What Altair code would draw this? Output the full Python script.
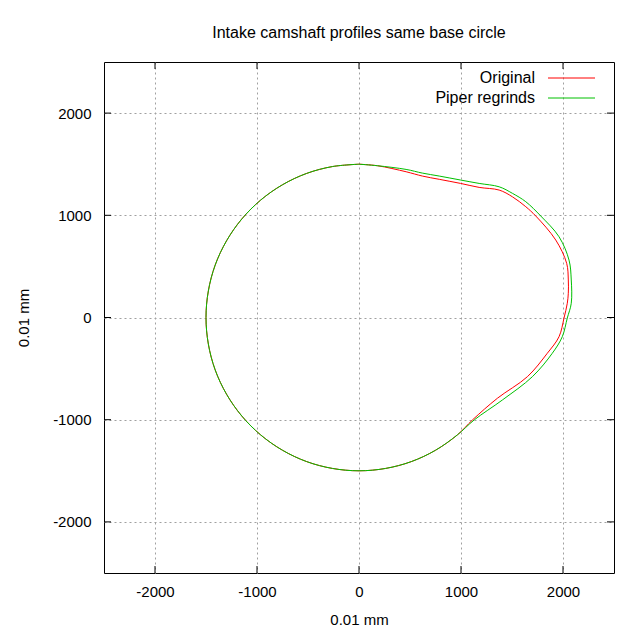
import altair as alt
import pandas as pd

# Base circle (shared by both profiles), counter-clockwise from the top
base_x = [0, -260, -513, -750, -964, -1149, -1299, -1410, -1477, -1500, -1477, -1410,
          -1299, -1149, -964, -750, -513, -260, 0, 260, 513, 750, 964]
base_y = [1500, 1477, 1410, 1299, 1149, 964, 750, 513, 260, 0, -260, -513,
          -750, -964, -1149, -1299, -1410, -1477, -1500, -1477, -1410, -1299, -1149]

# Lobe of the original profile
orig_x = [1113, 1357, 1651, 1846, 1961, 2010, 2042, 2052, 2052, 2036, 1929, 1733, 1635,
          1504, 1374, 1178, 996, 787, 621, 462, 181, 0]
orig_y = [-1002, -790, -579, -350, -188, -5, 139, 237, 367, 530, 758, 993, 1084,
          1181, 1247, 1273, 1312, 1352, 1384, 1426, 1485, 1500]

# Lobe of the Piper regrind profile
piper_x = [1130, 1406, 1700, 1895, 1993, 2042, 2081, 2081, 2059, 1961, 1782, 1635,
           1504, 1374, 1178, 996, 787, 621, 462, 181, 0]
piper_y = [-1002, -807, -579, -350, -188, -5, 139, 367, 562, 790, 993, 1133,
           1215, 1279, 1312, 1345, 1384, 1413, 1449, 1485, 1500]

series = ["Original", "Piper regrinds"]
colors = ["#ff0000", "#00c000"]
ticks = [-2000, -1000, 0, 1000, 2000]

rows = []
for name, lx, ly in [(series[0], orig_x, orig_y), (series[1], piper_x, piper_y)]:
    xs = base_x + lx
    ys = base_y + ly
    for i, (x, y) in enumerate(zip(xs, ys)):
        rows.append({"series": name, "x": x, "y": y, "order": i})
df = pd.DataFrame(rows)

W, H = 510, 511
font = "Liberation Sans"

xscale = alt.Scale(domain=[-2500, 2500], nice=False, zero=False)
yscale = alt.Scale(domain=[-2500, 2500], nice=False, zero=False)


def curve(name, color):
    return alt.Chart(df[df["series"] == name]).mark_line(
        color=color, strokeWidth=1, interpolate="catmull-rom"
    ).encode(
        x=alt.X("x:Q", scale=xscale,
                axis=alt.Axis(values=ticks, title="0.01 mm", labelExpr="'' + datum.value")),
        y=alt.Y("y:Q", scale=yscale,
                axis=alt.Axis(values=ticks, title="0.01 mm", labelExpr="'' + datum.value")),
        order="order:Q",
    )


tdf = pd.DataFrame({"t": ticks})
tick_layers = [
    alt.Chart(tdf).mark_rule(color="black", strokeWidth=1).encode(
        x=alt.X("t:Q", scale=xscale), y=alt.value(H), y2=alt.value(H - 7)),
    alt.Chart(tdf).mark_rule(color="black", strokeWidth=1).encode(
        x=alt.X("t:Q", scale=xscale), y=alt.value(0), y2=alt.value(7)),
    alt.Chart(tdf).mark_rule(color="black", strokeWidth=1).encode(
        y=alt.Y("t:Q", scale=yscale), x=alt.value(0), x2=alt.value(7)),
    alt.Chart(tdf).mark_rule(color="black", strokeWidth=1).encode(
        y=alt.Y("t:Q", scale=yscale), x=alt.value(W), x2=alt.value(W - 7)),
]

one = pd.DataFrame({"a": [0]})
legend_layers = []
for i, (name, color) in enumerate(zip(series, colors)):
    yy = 16 + 20 * i
    legend_layers.append(
        alt.Chart(one).mark_text(align="right", baseline="middle", font=font,
                                 fontSize=16, color="black").encode(
            x=alt.value(431), y=alt.value(yy), text=alt.value(name)))
    legend_layers.append(
        alt.Chart(one).mark_rule(color=color, strokeWidth=1).encode(
            x=alt.value(444), x2=alt.value(491), y=alt.value(yy)))

chart = alt.layer(
    curve(series[0], colors[0]),
    curve(series[1], colors[1]),
    *tick_layers,
    *legend_layers,
).properties(
    width=W, height=H,
    autosize="none",
    padding={"left": 96, "top": 54, "right": 18, "bottom": 59},
    title=alt.TitleParams("Intake camshaft profiles same base circle", font=font,
                          fontSize=16, fontWeight="normal", anchor="middle",
                          offset=21, color="black"),
).configure_view(
    stroke="black", strokeWidth=1
).configure_axis(
    labelFont=font, labelFontSize=15, labelColor="black",
    titleFont=font, titleFontSize=15, titleFontWeight="normal", titleColor="black",
    ticks=False, domain=False,
    grid=True, gridColor="#a0a0a0", gridDash=[2, 3], gridWidth=1, gridOpacity=1,
).configure_axisX(
    labelPadding=11, titlePadding=13
).configure_axisY(
    labelPadding=13, titlePadding=21
)

chart.save("out.html", embed_options={"renderer": "svg", "actions": False})
